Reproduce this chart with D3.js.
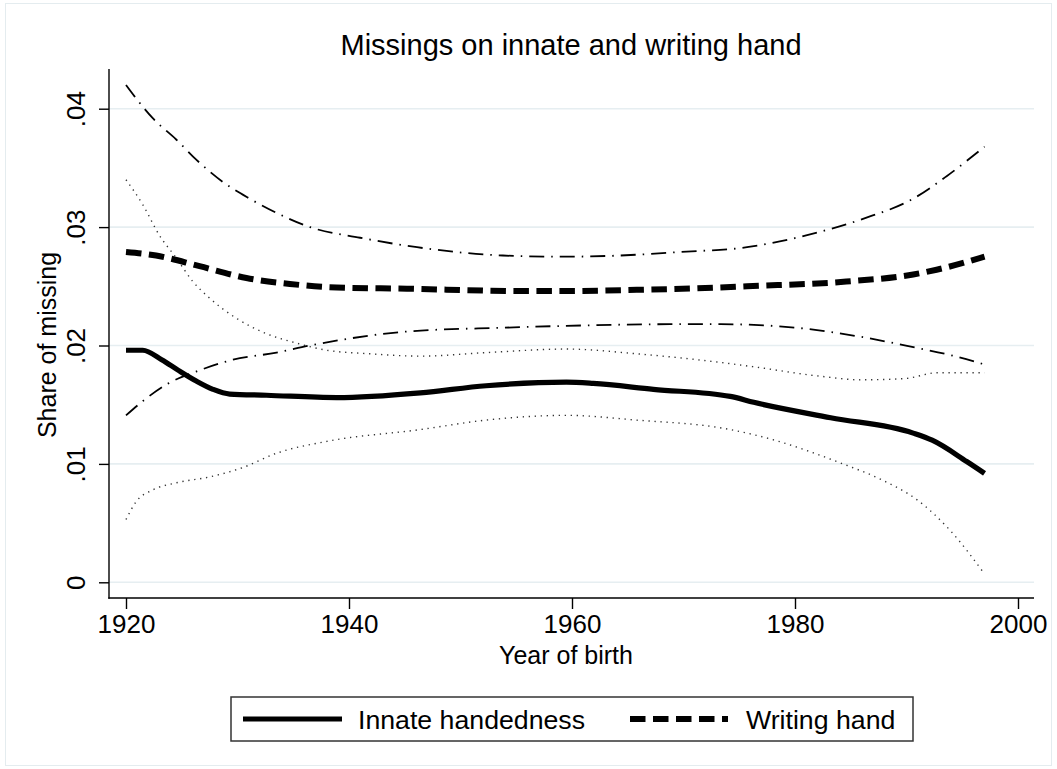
<!DOCTYPE html>
<html>
<head>
<meta charset="utf-8">
<script src="https://cdn.jsdelivr.net/npm/d3@7/dist/d3.min.js"></script>
<style>
  html, body { margin: 0; padding: 0; background: #fff; }
  svg { display: block; font-family: "Liberation Sans", Arial, Helvetica, sans-serif; }
</style>
</head>
<body>
<svg id="chart" width="1057" height="769"></svg>
<script>
// ---------- data ----------
const titleText = "Missings on innate and writing hand";
const xTitle = "Year of birth";
const yTitle = "Share of missing";
const xTicks = [1920, 1940, 1960, 1980, 2000];
const xTickLabels = ["1920", "1940", "1960", "1980", "2000"];
const yTicks = [0, 0.01, 0.02, 0.03, 0.04];
const yTickLabels = ["0", ".01", ".02", ".03", ".04"];
const legendLabels = ["Innate handedness", "Writing hand"];

const innateYears  = [1920, 1921.5, 1923.2, 1924.7, 1926.3, 1927.8, 1929.3, 1932.6, 1938.9, 1946.4, 1952.3, 1959.5, 1961.9, 1967.3, 1974.2, 1976.3, 1983.2, 1990.6, 1992.3, 1995.4, 1997];
const innateValues = [.0196, .0196, .0188, .0179, .0170, .0163, .0159, .0158, .0156, .0160, .0166, .0169, .0168, .0163, .0157, .0152, .0139, .0126, .0120, .0102, .0092];

const writingYears  = [1920, 1922.7, 1926.6, 1930.8, 1934.7, 1938.9, 1945.2, 1955.3, 1959.5, 1965.8, 1973.3, 1975.7, 1984.6, 1990.6, 1992.7, 1997];
const writingValues = [.0279, .0276, .0267, .0257, .0252, .0249, .0248, .0246, .0246, .0247, .0249, .0250, .0254, .0260, .0264, .0275];

const writingUpperYears  = [1920, 1920.8, 1922.4, 1924.5, 1926.3, 1928.7, 1931.1, 1933.5, 1936.5, 1941, 1946.1, 1953.8, 1958.9, 1964.3, 1969.7, 1975.7, 1981, 1986.1, 1990.6, 1993.6, 1997];
const writingUpperValues = [.0420, .0410, .0392, .0374, .0357, .0338, .0324, .0312, .0300, .0291, .0283, .0276, .0275, .0276, .0279, .0283, .0293, .0307, .0324, .0343, .0368];

const writingLowerYears  = [1920, 1921.5, 1923.8, 1926.3, 1929.6, 1933.5, 1936.5, 1945.5, 1953.8, 1961.3, 1968.8, 1973.3, 1980.1, 1986.1, 1990.9, 1993.9, 1997];
const writingLowerValues = [.0141, .0153, .0168, .0178, .0188, .0194, .0200, .0212, .0215, .0217, .0218, .0218, .0215, .0207, .0198, .0192, .0184];

const innateUpperYears  = [1920, 1921.5, 1923, 1924.5, 1926, 1927.5, 1929.9, 1932.6, 1935.3, 1938, 1941.9, 1946.4, 1952.3, 1959.5, 1965.8, 1973.9, 1976.3, 1982.3, 1985.9, 1989.8, 1992.8, 1997];
const innateUpperValues = [.0340, .0319, .0293, .0274, .0254, .0240, .0223, .0210, .0202, .0196, .0193, .0191, .0194, .0197, .0193, .0185, .0182, .0174, .0171, .0172, .0177, .0177];

const innateLowerYears  = [1920, 1920.9, 1922.4, 1924.5, 1927.5, 1930.5, 1933.5, 1938, 1946.4, 1952.3, 1959.5, 1965.8, 1973.6, 1976.6, 1984.3, 1987.9, 1990.9, 1993.9, 1997];
const innateLowerValues = [.0053, .0068, .0078, .0084, .0089, .0097, .0109, .0119, .0129, .0137, .0141, .0137, .0130, .0124, .0100, .0086, .0070, .0044, .0007];

// ---------- layout ----------
const svg = d3.select("#chart");
const plot = { left: 109, right: 1034, top: 69, bottom: 598 };
const x = d3.scaleLinear().domain([1920, 2000]).range([126, 1018]);
const y = d3.scaleLinear().domain([0, 0.04]).range([582.3, 108.7]);
const gridColor = "#e6eef1";

// outer graph region outline
svg.append("rect").attr("x", 5.5).attr("y", 3.5).attr("width", 1046).attr("height", 762)
  .attr("fill", "none").attr("stroke", "#e4ecef").attr("stroke-width", 1);

// gridlines
svg.append("g").selectAll("line").data(yTicks).join("line")
  .attr("x1", plot.left).attr("x2", plot.right)
  .attr("y1", d => y(d)).attr("y2", d => y(d))
  .attr("stroke", gridColor).attr("stroke-width", 1.6);

// series
const series = [
  { xs: innateUpperYears, vs: innateUpperValues, w: 1.4, dash: "1.3,4.7", color: "#333" },
  { xs: innateLowerYears, vs: innateLowerValues, w: 1.4, dash: "1.3,4.7", color: "#333" },
  { xs: writingUpperYears, vs: writingUpperValues, w: 1.8, dash: "15,7,1.5,7", color: "#000" },
  { xs: writingLowerYears, vs: writingLowerValues, w: 1.8, dash: "15,7,1.5,7", color: "#000" },
  { xs: writingYears, vs: writingValues, w: 6, dash: "15.5,7.5", color: "#000" },
  { xs: innateYears, vs: innateValues, w: 5.2, dash: null, color: "#000" }
];
const line = d3.line().x(d => x(d[0])).y(d => y(d[1])).curve(d3.curveMonotoneX);
const gSeries = svg.append("g");
series.forEach(s => {
  gSeries.append("path")
    .datum(s.xs.map((v, i) => [v, s.vs[i]]))
    .attr("d", line)
    .attr("fill", "none")
    .attr("stroke", s.color)
    .attr("stroke-width", s.w)
    .attr("stroke-dasharray", s.dash)
    .attr("stroke-linejoin", "round")
    .attr("stroke-linecap", "butt");
});

// axes
const fontSize = 26;
const yAxis = d3.axisLeft(y).tickValues(yTicks).tickSize(10)
  .tickFormat((d, i) => yTickLabels[i]);
const gy = svg.append("g").attr("transform", `translate(${plot.left},0)`).call(yAxis);
gy.select(".domain").remove();
gy.selectAll(".tick line").attr("stroke", "#000").attr("stroke-width", 1.4);
gy.selectAll(".tick text")
  .attr("x", null).attr("dy", null)
  .attr("transform", "translate(-24,0) rotate(-90)")
  .attr("text-anchor", "middle")
  .attr("font-size", fontSize).attr("font-family", "Liberation Sans, Arial, sans-serif")
  .attr("fill", "#000");

const xAxis = d3.axisBottom(x).tickValues(xTicks).tickSize(11)
  .tickFormat((d, i) => xTickLabels[i]);
const gx = svg.append("g").attr("transform", `translate(0,${plot.bottom})`).call(xAxis);
gx.select(".domain").remove();
gx.selectAll(".tick line").attr("stroke", "#000").attr("stroke-width", 1.4);
gx.selectAll(".tick text")
  .attr("y", 35).attr("dy", null)
  .attr("font-size", fontSize).attr("font-family", "Liberation Sans, Arial, sans-serif")
  .attr("fill", "#000");

// axis lines
svg.append("line").attr("x1", plot.left).attr("x2", plot.left)
  .attr("y1", plot.top).attr("y2", plot.bottom + 0.7)
  .attr("stroke", "#000").attr("stroke-width", 1.4);
svg.append("line").attr("x1", plot.left - 0.7).attr("x2", plot.right)
  .attr("y1", plot.bottom).attr("y2", plot.bottom)
  .attr("stroke", "#000").attr("stroke-width", 1.4);

// titles
svg.append("text").attr("x", 571).attr("y", 55).attr("text-anchor", "middle")
  .attr("font-size", 29).text(titleText);
svg.append("text").attr("x", 566).attr("y", 664).attr("text-anchor", "middle")
  .attr("font-size", 25).text(xTitle);
svg.append("text").attr("transform", "translate(56,345) rotate(-90)").attr("text-anchor", "middle")
  .attr("font-size", 25).text(yTitle);

// legend
const lg = svg.append("g");
lg.append("rect").attr("x", 231).attr("y", 697).attr("width", 682).attr("height", 44)
  .attr("fill", "#fff").attr("stroke", "#333").attr("stroke-width", 1.5);
const legendItems = [
  { x1: 243, x2: 342, tx: 358, w: 5.2, dash: null, label: legendLabels[0] },
  { x1: 630, x2: 728, tx: 746, w: 6, dash: "15.5,7.5", label: legendLabels[1] }
];
legendItems.forEach(it => {
  lg.append("line").attr("x1", it.x1).attr("x2", it.x2).attr("y1", 719).attr("y2", 719)
    .attr("stroke", "#000").attr("stroke-width", it.w).attr("stroke-dasharray", it.dash);
  lg.append("text").attr("x", it.tx).attr("y", 729).attr("font-size", 26.7).text(it.label);
});
</script>
</body>
</html>
